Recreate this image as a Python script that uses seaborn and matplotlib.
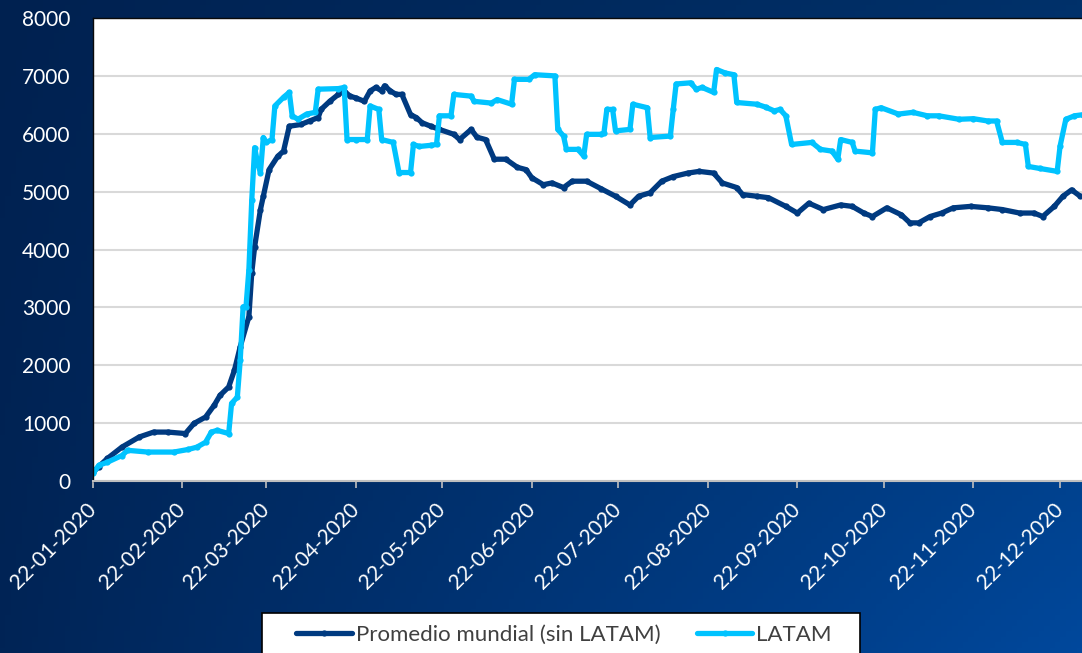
import numpy as np
import pandas as pd
import seaborn as sns
import matplotlib
import matplotlib.pyplot as plt
from matplotlib.patches import Rectangle
import matplotlib.dates as mdates

sns.set_style("white")
plt.rcParams["font.family"] = ["Lato", "DejaVu Sans"]

INICIO = pd.Timestamp("2020-01-22")

# días desde el 22-01-2020 y valores
dias_mundial = [0, 2, 5, 10, 16, 21, 26, 32, 35, 39, 42, 44, 47, 49, 51, 54, 55, 56, 58, 59,
                61, 64, 66, 68, 72, 75, 78, 79, 82, 85, 87, 89, 91, 94, 96, 98, 100, 101, 103, 105,
                107, 110, 112, 114, 117, 120, 125, 127, 131, 133, 136, 139, 143, 147, 150, 152, 156, 159, 163, 166,
                171, 176, 181, 186, 189, 193, 197, 201, 206, 210, 215, 218, 223, 225, 230, 234, 240, 244, 248, 253,
                259, 263, 267, 270, 275, 280, 283, 286, 290, 294, 298, 304, 310, 315, 321, 326, 329, 333, 336, 339,
                342]
mundial = [150, 250, 390, 585, 760, 845, 845, 820, 995, 1105, 1310, 1480, 1625, 1915, 2320, 2840, 3600, 4050, 4690, 4920,
           5380, 5610, 5700, 6130, 6160, 6220, 6280, 6420, 6560, 6680, 6740, 6650, 6620, 6560, 6740, 6800, 6740, 6830, 6740, 6680,
           6680, 6330, 6280, 6190, 6130, 6075, 5990, 5900, 6075, 5940, 5900, 5560, 5560, 5420, 5380, 5240, 5120, 5150, 5070, 5180,
           5180, 5050, 4920, 4770, 4920, 4980, 5180, 5260, 5320, 5350, 5320, 5150, 5070, 4950, 4920, 4895, 4745, 4630, 4800, 4690,
           4770, 4745, 4630, 4570, 4720, 4600, 4460, 4460, 4570, 4630, 4720, 4745, 4720, 4690, 4630, 4630, 4570, 4745, 4920, 5030,
           4920]

dias_latam = [0, 2, 5, 10, 12, 19, 28, 33, 36, 39, 41, 43, 47, 48, 50, 51, 52, 53, 54, 55,
              56, 57, 58, 59, 60, 62, 63, 66, 68, 69, 71, 74, 77, 78, 85, 87, 88, 91, 95, 96,
              99, 100, 104, 106, 110, 111, 113, 117, 119, 120, 124, 125, 131, 132, 138, 140, 145, 146, 151, 153,
              160, 161, 163, 164, 168, 170, 171, 176, 177, 178, 180, 181, 186, 187, 192, 193, 200, 201, 202, 207,
              209, 211, 215, 216, 219, 222, 223, 230, 233, 236, 238, 240, 242, 249, 252, 256, 258, 259, 263, 264,
              270, 271, 273, 279, 284, 289, 293, 300, 305, 310, 313, 315, 320, 323, 324, 328, 334, 335, 337, 340,
              343]
latam = [130, 270, 325, 440, 530, 500, 500, 545, 585, 670, 845, 875, 820, 1340, 1450, 2090, 3010, 3010, 3650, 4860,
         5760, 5500, 5330, 5935, 5850, 5900, 6480, 6630, 6715, 6310, 6250, 6340, 6370, 6770, 6780, 6800, 5900, 5900, 5900, 6480,
         6420, 5900, 5850, 5330, 5330, 5815, 5780, 5800, 5815, 6310, 6310, 6680, 6650, 6560, 6530, 6590, 6510, 6940, 6940, 7020,
         7000, 6075, 5960, 5730, 5730, 5615, 5990, 5990, 6015, 6420, 6420, 6050, 6075, 6510, 6450, 5935, 5960, 6420, 6860, 6880,
         6770, 6800, 6715, 7110, 7050, 7020, 6540, 6510, 6460, 6395, 6420, 6310, 5815, 5850, 5730, 5700, 5560, 5900, 5850, 5700,
         5670, 6420, 6450, 6340, 6370, 6310, 6310, 6250, 6260, 6220, 6220, 5850, 5850, 5815, 5435, 5400, 5350, 5785, 6250, 6310,
         6330]

series = ["Promedio mundial (sin LATAM)", "LATAM"]
colores = {"Promedio mundial (sin LATAM)": "#003A80", "LATAM": "#00C3FF"}
ticks_fechas = pd.date_range("2020-01-01", periods=12, freq="MS") + pd.Timedelta(days=21)

df = pd.concat([
    pd.DataFrame({"fecha": INICIO + pd.to_timedelta(dias_mundial, unit="D"), "valor": mundial, "serie": series[0]}),
    pd.DataFrame({"fecha": INICIO + pd.to_timedelta(dias_latam, unit="D"), "valor": latam, "serie": series[1]}),
])

W, H = 1082, 653
fig = plt.figure(figsize=(W / 100, H / 100), dpi=100)

# fondo degradado azul
bg = fig.add_axes([0, 0, 1, 1], zorder=-10)
tl = np.array([0x00, 0x21, 0x50]) / 255
tr = np.array([0x00, 0x31, 0x6A]) / 255
bl = np.array([0x00, 0x24, 0x56]) / 255
br = np.array([0x00, 0x48, 0x9C]) / 255
u = np.linspace(0, 1, 200)[None, :, None]
v = np.linspace(0, 1, 120)[:, None, None]
grad = (1 - v) * ((1 - u) * tl + u * tr) + v * ((1 - u) * bl + u * br)
bg.imshow(grad, aspect="auto", extent=[0, 1, 0, 1])
bg.axis("off")

ax = fig.add_axes([93 / W, 1 - 481 / H, 1 - 93 / W, (481 - 18) / H], zorder=1)
ax.set_facecolor("white")

sns.lineplot(
    ax=ax,
    data=df,
    x="fecha",
    y="valor",
    hue="serie",
    hue_order=series,
    palette=colores,
    estimator=None,
    linewidth=3.8,
    marker="o",
    markersize=4.5,
    markeredgewidth=0,
    legend=True,
)

ax.set_ylim(0, 8000)
ax.set_yticks(range(0, 8001, 1000))
ax.set_xticks(ticks_fechas)
ax.set_xlim(INICIO, INICIO + pd.Timedelta(days=342.6))
ax.xaxis.set_major_formatter(mdates.DateFormatter("%d-%m-%Y"))
ax.set(xlabel="", ylabel="")
ax.grid(axis="y", color="#D9D9D9", linewidth=1.5)
ax.grid(axis="x", visible=False)
ax.set_axisbelow(True)

for s in ["top", "left"]:
    ax.spines[s].set_color("#0A0A0A")
    ax.spines[s].set_linewidth(1.0)
ax.spines["right"].set_visible(False)
ax.spines["bottom"].set_color("#BFBFBF")
ax.spines["bottom"].set_linewidth(1.5)

ax.tick_params(axis="y", length=0, pad=16, labelsize=15, labelcolor="white")
ax.tick_params(axis="x", bottom=True, direction="out", length=5, width=1.2, color="#BFBFBF",
               pad=13, labelsize=15, labelcolor="white")
for lab in ax.get_xticklabels():
    lab.set_rotation(45)
    lab.set_ha("right")
    lab.set_va("center")
    lab.set_rotation_mode("anchor")

handles, labels = ax.get_legend_handles_labels()
ax.get_legend().remove()

fig.patches.append(Rectangle((262 / W, -0.05), (860 - 262) / W, 0.05 + (653 - 613) / H,
                             transform=fig.transFigure, facecolor="white", edgecolor="black",
                             linewidth=1.2, zorder=2))
leg = fig.legend(handles, labels, loc="center", bbox_to_anchor=(564 / W, 1 - 635 / H),
                 ncol=2, frameon=False, fontsize=16, handlelength=2.5, handletextpad=0.18,
                 columnspacing=1.65, labelcolor="#404040")
leg.set_zorder(3)
for h in leg.legend_handles:
    h.set_linewidth(3.8)

fig.savefig("out.png", dpi=100)
